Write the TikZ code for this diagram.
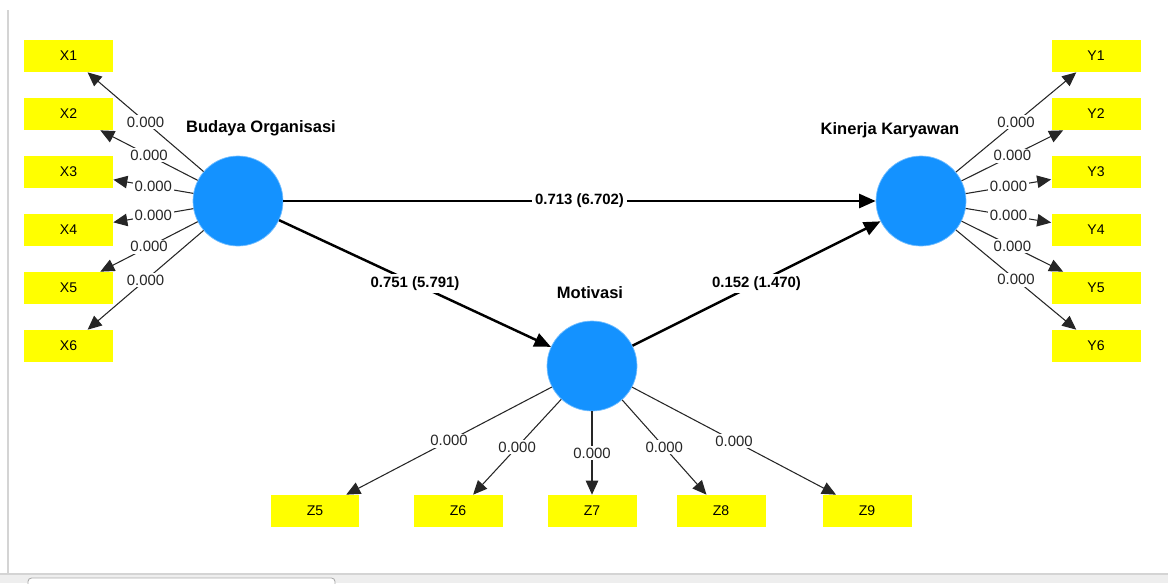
\documentclass[tikz,border=0pt]{standalone}
\usepackage{fontspec}
\setmainfont{Liberation Sans}
\usetikzlibrary{arrows.meta}
\definecolor{plsBlue}{RGB}{20,146,255}
\definecolor{plsYellow}{RGB}{255,255,0}
\definecolor{frameGray}{RGB}{212,212,212}
\definecolor{barGray}{RGB}{238,238,238}
\tikzset{
  latent/.style={circle, fill=plsBlue, draw=plsBlue!60!white, minimum size=1.8cm, inner sep=0pt},
  indicator/.style={rectangle, fill=plsYellow, minimum width=1.78cm, minimum height=0.64cm,
              inner sep=0pt, font=\fontsize{8}{9}\selectfont},
  lvname/.style={font=\fontsize{9.4}{11}\selectfont\bfseries},
  loading/.style={-{Triangle[length=2.8mm, width=2.5mm]}, draw=black!85, line width=0.6pt},
  structural/.style={-{Triangle[length=3.3mm, width=2.8mm]}, draw=black, line width=1.4pt},
  coef/.style={fill=white, inner sep=1pt, text=black!85, font=\fontsize{8.5}{10}\selectfont},
  pathcoef/.style={fill=white, inner sep=1.5pt, font=\fontsize{8.5}{10}\selectfont\bfseries}
}
\begin{document}
\begin{tikzpicture}[x=0.02cm, y=-0.02cm]
\useasboundingbox (0,0) rectangle (1168,583);

% window frame
\fill[white] (0,0) rectangle (1168,583);
\draw[frameGray, line width=0.8pt] (8,10) -- (8,574);
\fill[barGray] (0,574) rectangle (1168,583);
\draw[frameGray, line width=0.6pt] (0,574) -- (1168,574);
\draw[frameGray!80!black, fill=white, rounded corners=2pt, line width=0.5pt] (28,578) rectangle (335,590);

% latent variables
\node[latent] (BO) at (238,201) {};
\node[latent] (KK) at (921,201) {};
\node[latent] (MO) at (592,366) {};
\node[lvname] (BOname) at (261,128) {Budaya Organisasi};
\node[lvname] (KKname) at (890,130) {Kinerja Karyawan};
\node[lvname] (MOname) at (590,293) {Motivasi};

% indicators of Budaya Organisasi
\node[indicator] (X1) at (68.5,56) {X1};
\node[indicator] (X2) at (68.5,114) {X2};
\node[indicator] (X3) at (68.5,172) {X3};
\node[indicator] (X4) at (68.5,230) {X4};
\node[indicator] (X5) at (68.5,288) {X5};
\node[indicator] (X6) at (68.5,346) {X6};
\draw[loading] (BO) -- node[coef] {0.000} (X1);
\draw[loading] (BO) -- node[coef] {0.000} (X2);
\draw[loading] (BO) -- node[coef] {0.000} (X3);
\draw[loading] (BO) -- node[coef] {0.000} (X4);
\draw[loading] (BO) -- node[coef] {0.000} (X5);
\draw[loading] (BO) -- node[coef] {0.000} (X6);

% indicators of Kinerja Karyawan
\node[indicator] (Y1) at (1096,56) {Y1};
\node[indicator] (Y2) at (1096,114) {Y2};
\node[indicator] (Y3) at (1096,172) {Y3};
\node[indicator] (Y4) at (1096,230) {Y4};
\node[indicator] (Y5) at (1096,288) {Y5};
\node[indicator] (Y6) at (1096,346) {Y6};
\draw[loading] (KK) -- node[coef] {0.000} (Y1);
\draw[loading] (KK) -- node[coef] {0.000} (Y2);
\draw[loading] (KK) -- node[coef] {0.000} (Y3);
\draw[loading] (KK) -- node[coef] {0.000} (Y4);
\draw[loading] (KK) -- node[coef] {0.000} (Y5);
\draw[loading] (KK) -- node[coef] {0.000} (Y6);

% indicators of Motivasi
\node[indicator] (Z5) at (315,511) {Z5};
\node[indicator] (Z6) at (458,511) {Z6};
\node[indicator] (Z7) at (592,511) {Z7};
\node[indicator] (Z8) at (721,511) {Z8};
\node[indicator] (Z9) at (867,511) {Z9};
\draw[loading] (MO) -- node[coef] {0.000} (Z5);
\draw[loading] (MO) -- node[coef] {0.000} (Z6);
\draw[loading] (MO) -- node[coef] {0.000} (Z7);
\draw[loading] (MO) -- node[coef] {0.000} (Z8);
\draw[loading] (MO) -- node[coef] {0.000} (Z9);

% structural paths
\draw[structural] (BO) -- node[pathcoef] {0.713 (6.702)} (KK);
\draw[structural] (BO) -- node[pathcoef] {0.751 (5.791)} (MO);
\draw[structural] (MO) -- node[pathcoef] {0.152 (1.470)} (KK);
\end{tikzpicture}
\end{document}
